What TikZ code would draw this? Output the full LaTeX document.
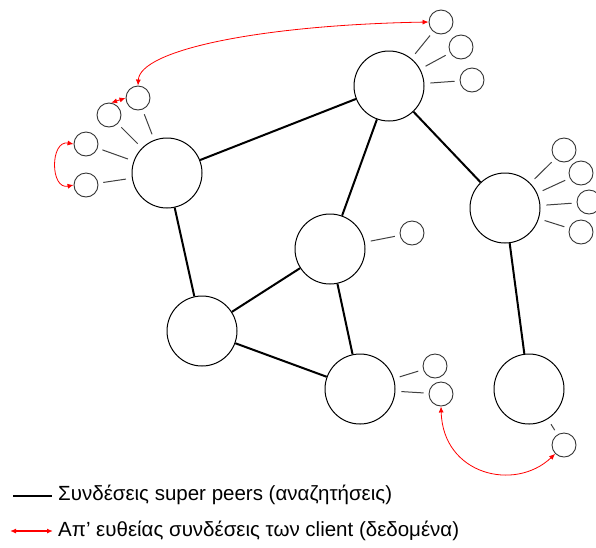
\documentclass[tikz,border=0pt]{standalone}
\usepackage{fontspec}
\setmainfont{Liberation Sans}
\usetikzlibrary{arrows.meta}

\begin{document}
\begin{tikzpicture}[x=1pt, y=-1pt,
    peer/.style={draw, circle, line width=1pt, minimum size=70pt, inner sep=0pt},
    client/.style={draw=black!80, circle, line width=0.9pt, minimum size=24pt, inner sep=0pt},
    search/.style={line width=2pt},
    feed/.style={draw=black!75, line width=1pt, shorten <=5pt, shorten >=6pt},
    direct/.style={red, line width=0.8pt, {Latex[length=6pt,width=5pt]}-{Latex[length=6pt,width=5pt]}},
    legend/.style={anchor=west, inner sep=0pt, font=\fontsize{20.5}{24}\selectfont}]
  \useasboundingbox (0,0) rectangle (596,547);
  % super peers
  \node[peer] (sa) at (167,173) {};
  \node[peer] (sb) at (389,86) {};
  \node[peer] (sc) at (505,208) {};
  \node[peer] (sd) at (330,249) {};
  \node[peer] (se) at (202,331) {};
  \node[peer] (sf) at (360,389) {};
  \node[peer] (sg) at (529,389) {};
  % clients
  \node[client] (a1) at (138,98) {};
  \node[client] (a2) at (109,115) {};
  \node[client] (a3) at (86,144) {};
  \node[client] (a4) at (86,185) {};
  \node[client] (b1) at (441,22) {};
  \node[client] (b2) at (461,47) {};
  \node[client] (b3) at (472,80) {};
  \node[client] (c1) at (564,150) {};
  \node[client] (c2) at (581,173) {};
  \node[client] (c3) at (589,202) {};
  \node[client] (c4) at (581,232) {};
  \node[client] (d1) at (412,233) {};
  \node[client] (f1) at (435,366) {};
  \node[client] (f2) at (441,394) {};
  \node[client] (g1) at (564,445) {};
  \foreach \c/\s in {a1/sa, a2/sa, a3/sa, a4/sa, b1/sb, b2/sb, b3/sb,
      c1/sc, c2/sc, c3/sc, c4/sc, d1/sd, f1/sf, f2/sf, g1/sg}
    \draw[feed] (\c) -- (\s);
  % links between super peers
  \foreach \u/\v in {sa/sb, sa/se, sb/sd, sb/sc, sc/sg, sd/se, sd/sf, se/sf}
    \draw[search] (\u) -- (\v);
  % direct client links
  \draw[direct] (b1.west) .. controls (260,25) and (140,50) .. (a1.north);
  \draw[direct] (a2.80) -- (a1.west);
  \draw[direct] (a3.west) .. controls (50,140) and (50,190) .. (a4.west);
  \draw[direct] (f2.south) .. controls (443,475) and (515,492) .. (g1.225);
  % legend
  \node[legend] (l1) at (58,495) {Συνδέσεις super peers (αναζητήσεις)};
  \node[legend] (l2) at (58,531) {Απ’ ευθείας συνδέσεις των client (δεδομένα)};
  \coordinate (k1) at (13,496);
  \coordinate (k2) at (10,531);
  \draw[search] (k1) -- ([xshift=-6pt]l1.west |- k1);
  \draw[direct, line width=1.6pt] (k2) -- ([xshift=-5pt]l2.west |- k2);
\end{tikzpicture}
\end{document}
